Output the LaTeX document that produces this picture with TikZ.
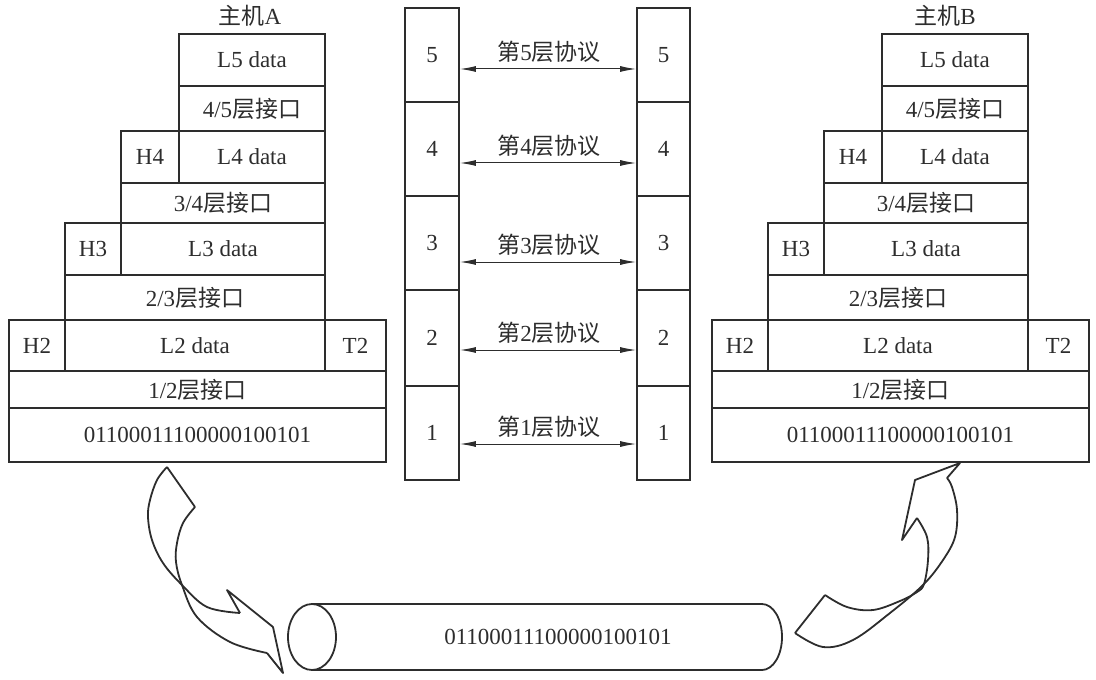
\documentclass[tikz,border=0pt]{standalone}
\usepackage{fontspec}
\setmainfont{Liberation Serif}
\newfontfamily\cjk{Noto Sans CJK SC}
\usetikzlibrary{arrows.meta}
\definecolor{ink}{RGB}{45,45,45}
\newcommand\zh[1]{{\cjk #1}}
\newcommand\cell[6]{%
  \pgfmathsetmacro\cw{(#4-#2)*0.5}\pgfmathsetmacro\ch{(#5-#3)*0.5}%
  \node[box,minimum width=\cw pt,minimum height=\ch pt] (#1) at ({(#2+#4)/2},{(#3+#5)/2}) {#6};}
\begin{document}
\begin{tikzpicture}[x=0.5pt,y=-0.5pt,
  every node/.style={text=ink,font=\fontsize{11.5}{13}\selectfont},
  box/.style={draw=ink,line width=0.9pt,inner sep=0pt},
  proto/.style={draw=ink,line width=0.5pt,{Latex[length=8pt,width=3pt]}-{Latex[length=8pt,width=3pt]}},
  curvearrow/.style={draw=ink,line width=0.9pt,line join=round}]
\useasboundingbox (0,0) rectangle (1096,679);
% ---- host A ----
\node (hostA) at (250,16) {\zh{主机}A};
\cell{A5}{179}{34}{325}{86}{L5 data}
\cell{A45}{179}{86}{325}{131}{4/5\zh{层接口}}
\cell{AH4}{121}{131}{179}{183}{H4}
\cell{A4}{179}{131}{325}{183}{L4 data}
\cell{A34}{121}{183}{325}{223}{3/4\zh{层接口}}
\cell{AH3}{65}{223}{121}{275}{H3}
\cell{A3}{121}{223}{325}{275}{L3 data}
\cell{A23}{65}{275}{325}{320}{2/3\zh{层接口}}
\cell{AH2}{9}{320}{65}{371}{H2}
\cell{A2}{65}{320}{325}{371}{L2 data}
\cell{AT2}{325}{320}{386}{371}{T2}
\cell{A12}{9}{371}{386}{408}{1/2\zh{层接口}}
\cell{A1}{9}{408}{386}{462}{01100011100000100101}
% ---- host B ----
\node (hostB) at (945,16) {\zh{主机}B};
\cell{B5}{882}{34}{1028}{86}{L5 data}
\cell{B45}{882}{86}{1028}{131}{4/5\zh{层接口}}
\cell{BH4}{824}{131}{882}{183}{H4}
\cell{B4}{882}{131}{1028}{183}{L4 data}
\cell{B34}{824}{183}{1028}{223}{3/4\zh{层接口}}
\cell{BH3}{768}{223}{824}{275}{H3}
\cell{B3}{824}{223}{1028}{275}{L3 data}
\cell{B23}{768}{275}{1028}{320}{2/3\zh{层接口}}
\cell{BH2}{712}{320}{768}{371}{H2}
\cell{B2}{768}{320}{1028}{371}{L2 data}
\cell{BT2}{1028}{320}{1089}{371}{T2}
\cell{B12}{712}{371}{1089}{408}{1/2\zh{层接口}}
\cell{B1}{712}{408}{1089}{462}{01100011100000100101}
% ---- middle columns ----
\cell{ML5}{405}{8}{459}{102}{5}
\cell{ML4}{405}{102}{459}{196}{4}
\cell{ML3}{405}{196}{459}{290}{3}
\cell{ML2}{405}{290}{459}{386}{2}
\cell{ML1}{405}{386}{459}{480}{1}
\cell{MR5}{637}{8}{690}{102}{5}
\cell{MR4}{637}{102}{690}{196}{4}
\cell{MR3}{637}{196}{690}{290}{3}
\cell{MR2}{637}{290}{690}{386}{2}
\cell{MR1}{637}{386}{690}{480}{1}
\node (P5) at (549,52) {\zh{第}5\zh{层协议}};
\node (P4) at (549,146) {\zh{第}4\zh{层协议}};
\node (P3) at (549,245) {\zh{第}3\zh{层协议}};
\node (P2) at (549,333) {\zh{第}2\zh{层协议}};
\node (P1) at (549,427) {\zh{第}1\zh{层协议}};
\coordinate (y5) at (0,69);
\coordinate (y4) at (0,163);
\coordinate (y3) at (0,262);
\coordinate (y2) at (0,350);
\coordinate (y1) at (0,444);
\foreach \i in {1,...,5}{
  \draw[proto] (ML\i.east |- y\i) -- (MR\i.west |- y\i);
}
% ---- cable ----
\draw[draw=ink,line width=0.9pt] (312,637) ellipse [x radius=24,y radius=33];
\draw[draw=ink,line width=0.9pt] (312,604) -- (762,604) arc[start angle=-90,end angle=90,x radius=20,y radius=33] -- (312,670);
\node (cable) at (558,637) {01100011100000100101};
% ---- left curved arrow ----
\draw[curvearrow] (167,467) -- (195,507);
\draw[curvearrow] plot[smooth,tension=0.6] coordinates {(195,507) (183,523) (177,543) (176,562) (182,585) (197,617) (230,642) (267,653)};
\draw[curvearrow] plot[smooth,tension=0.6] coordinates {(167,467) (157,480) (150,500) (148,517) (152,540) (163,563) (182,585) (207,607) (240,613)};
\draw[curvearrow] (240,613) -- (227,590) -- (273,627) -- (283,673) -- (267,653);
% ---- right curved arrow ----
\draw[curvearrow] (795,633) -- (825,595);
\draw[curvearrow] plot[smooth,tension=0.6] coordinates {(825,595) (847,607) (873,610) (900,601) (917,592) (924,584) (928,560) (927,537) (917,518)};
\draw[curvearrow] plot[smooth,tension=0.6] coordinates {(947,478) (952,487) (957,510) (955,537) (943,560) (923,585) (890,613) (853,640) (823,647) (795,633)};
\draw[curvearrow] (917,518) -- (902,540) -- (915,480) -- (960,463) -- (947,478);
\end{tikzpicture}
\end{document}
